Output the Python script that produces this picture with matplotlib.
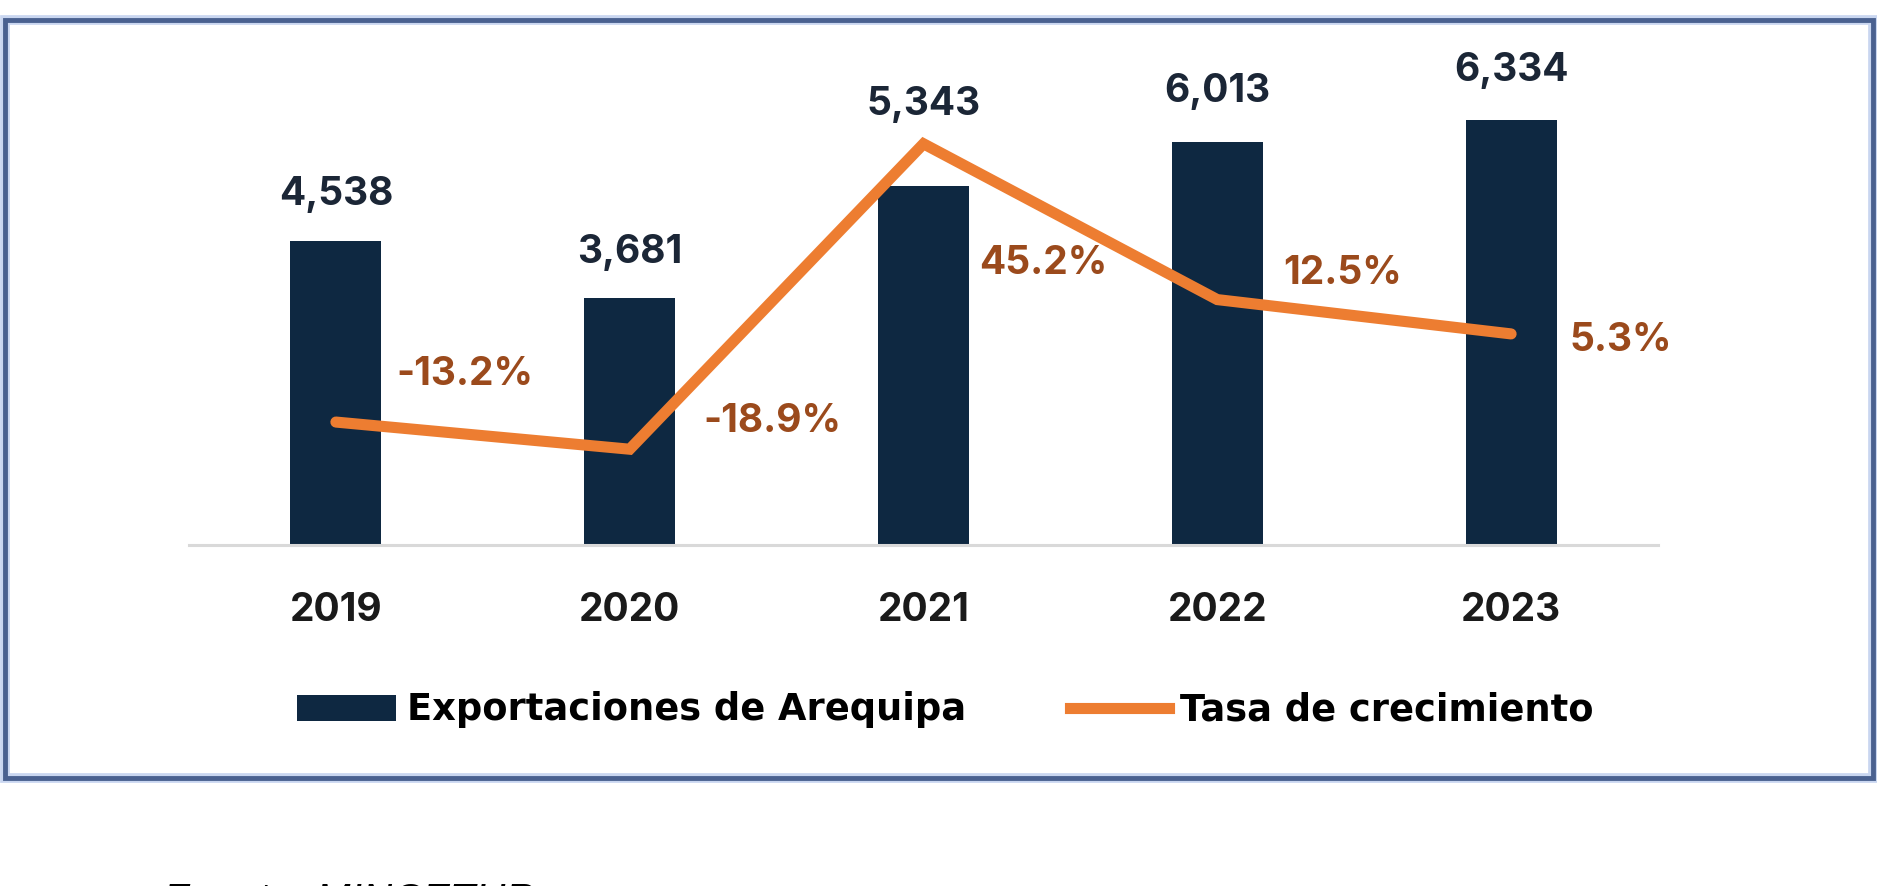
"""Exportaciones de Arequipa (barras) y tasa de crecimiento (linea), 2019-2023."""

import matplotlib

matplotlib.use("Agg")
import matplotlib.pyplot as plt
from matplotlib.patches import Rectangle, Patch
from matplotlib.lines import Line2D

# ---
# Data
# ---
years = ["2019", "2020", "2021", "2022", "2023"]
exports = [4538, 3681, 5343, 6013, 6334]  # millones US$
growth = [-13.2, -18.9, 45.2, 12.5, 5.3]  # (%)

# ---
# Style
# ---
W, H, DPI = 1877, 886, 100
NAVY = "#0E2841"
ORANGE = "#ED7D31"
BROWN = "#9B4A1C"
FRAME = "#4A6190"
FONT = "Inter"

# label offsets in pixels (dx, dy) -- hand placed like the original
bar_label_dy = [46, 46, 82, 50, 49]
pct_offsets = [(129, 48), (143, 28), (120, -120), (125, 26), (110, -7)]

plt.rcParams["font.family"] = [FONT, "DejaVu Sans"]
plt.rcParams["font.weight"] = "bold"


def px(x, y):
    # pixel coords (from top-left) -> figure fraction
    return x / W, 1 - y / H


fig = plt.figure(figsize=(W / DPI, H / DPI), dpi=DPI)

# plot area: x from 189 to 1658 px, y from 48 to 545 px
left, top = px(189, 48)
right, bottom = px(1658, 545)
ax = fig.add_axes([left, bottom, right - left, top - bottom])
ax2 = ax.twinx()

xs = list(range(len(years)))
ax.bar(xs, exports, width=0.31, color=NAVY, zorder=2)
ax.set_xlim(-0.5, 4.5)
ax.set_ylim(0, 7407)

ax2.plot(xs, growth, color=ORANGE, lw=8, solid_capstyle="round",
         solid_joinstyle="miter", zorder=3)
ax2.set_ylim(-39.0, 65.3)

for a in (ax, ax2):
    for s in ("top", "left", "right"):
        a.spines[s].set_visible(False)
    a.set_yticks([])
ax2.spines["bottom"].set_visible(False)
ax.spines["bottom"].set_color("#D9D9D9")
ax.spines["bottom"].set_linewidth(2.2)

ax.set_xticks(xs)
ax.set_xticklabels(years, fontsize=28, fontweight="bold", color="#1a1a1a")
ax.tick_params(axis="x", length=0, pad=34)

for x, v, dy in zip(xs, exports, bar_label_dy):
    ax.annotate(f"{v:,}", (x, v), xytext=(0, dy), textcoords="offset pixels",
                ha="center", va="center", fontsize=28, fontweight="bold",
                color="#1B2636")

for x, g, (dx, dy) in zip(xs, growth, pct_offsets):
    ax2.annotate(f"{g:.1f}%", (x, g), xytext=(dx, dy), textcoords="offset pixels",
                 ha="center", va="center", fontsize=28, fontweight="bold",
                 color=BROWN, zorder=4)

handles = [
    Patch(facecolor=NAVY, label="Exportaciones de Arequipa"),
    Line2D([], [], color=ORANGE, lw=8, label="Tasa de crecimiento"),
]
fig.legend(handles=handles, loc="center left", bbox_to_anchor=px(297, 710),
           ncol=2, frameon=False, handlelength=2.7,
           handleheight=0.72, handletextpad=0.3, columnspacing=2.8,
           borderpad=0, borderaxespad=0,
           prop={"family": "DejaVu Sans", "weight": "bold", "size": 26.5})

# outer frame
x0, y0 = px(5, 778)
x1, y1 = px(1873, 20)
fig.add_artist(Rectangle((x0, y0), x1 - x0, y1 - y0, transform=fig.transFigure,
                         fill=False, edgecolor="#C9D6F0", lw=7))
fig.add_artist(Rectangle((x0, y0), x1 - x0, y1 - y0, transform=fig.transFigure,
                         fill=False, edgecolor=FRAME, lw=3.5))

# source note, cut off at the bottom edge like the reference
fig.text(163 / W, 4 / H, "Fuente: MINCETUR", ha="left", va="top",
         fontsize=30, fontstyle="italic", fontweight="normal", color="black",
         family="Liberation Sans")

fig.savefig("out.png", dpi=DPI)
